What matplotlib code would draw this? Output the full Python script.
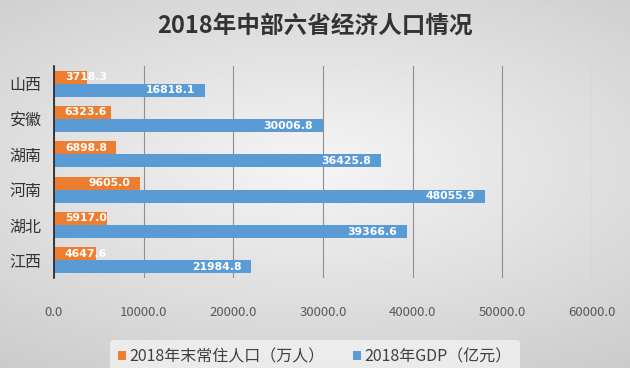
import matplotlib.pyplot as plt
import numpy as np

plt.rcParams['font.family'] = ['Noto Sans CJK SC', 'DejaVu Sans']

provinces = ["山西", "安徽", "湖南", "河南", "湖北", "江西"]
population = [3718.3, 6323.6, 6898.8, 9605.0, 5917.0, 4647.6]
gdp = [16818.1, 30006.8, 36425.8, 48055.9, 39366.6, 21984.8]
xticks = [0, 10000, 20000, 30000, 40000, 50000, 60000]

orange = "#ED7D31"
blue = "#5B9BD5"

fig = plt.figure(figsize=(6.3, 3.68), dpi=100)

# gray gradient background
bg = fig.add_axes([0, 0, 1, 1], zorder=-10)
yy, xx = np.mgrid[-1:1:200j, -1:1:340j]
r = np.sqrt((xx * 0.8) ** 2 + (yy + 0.1) ** 2)
bg.imshow(0.96 - 0.12 * r, cmap="gray", vmin=0, vmax=1, aspect="auto",
          extent=[0, 1, 0, 1])
bg.axis("off")

ax = fig.add_axes([0.0857, 0.2446, 0.854, 0.576])
ax.patch.set_alpha(0)

y = np.arange(len(provinces))
h = 0.37
ax.barh(y - h / 2, population, height=h, color=orange, zorder=3)
ax.barh(y + h / 2, gdp, height=h, color=blue, zorder=3)

for i in range(len(provinces)):
    ax.text(max(population[i] - 1100, 5900), y[i] - h / 2, f"{population[i]:.1f}",
            ha="right", va="center", color="white", fontsize=7.8,
            fontweight="bold", family="DejaVu Sans", zorder=4)
    ax.text(max(gdp[i] - 1100, 5900), y[i] + h / 2, f"{gdp[i]:.1f}",
            ha="right", va="center", color="white", fontsize=7.8,
            fontweight="bold", family="DejaVu Sans", zorder=4)

ax.set_ylim(len(provinces) - 0.5, -0.5)
ax.set_xlim(0, 60000)
ax.set_yticks(y)
ax.set_yticklabels(provinces, fontsize=11.5, color="#333333")
ax.set_xticks(xticks)
ax.set_xticklabels([f"{v:.1f}" for v in xticks], fontsize=9.5, color="#595959")
ax.tick_params(axis="both", length=0)
ax.tick_params(axis="x", pad=20)
ax.tick_params(axis="y", pad=9)
ax.grid(axis="x", color="#8f8f8f", linewidth=0.8, zorder=0)
for s in ["top", "right", "bottom"]:
    ax.spines[s].set_visible(False)
ax.spines["left"].set_color("#222222")
ax.spines["left"].set_linewidth(1.2)
ax.spines["left"].set_zorder(5)

fig.text(0.5, 0.93, "2018年中部六省经济人口情况", ha="center", va="center",
         fontsize=17, fontweight="bold", color="#333333")

leg = fig.legend(["2018年末常住人口（万人）", "2018年GDP（亿元）"],
                 loc="center", bbox_to_anchor=(0.5, 0.03), ncol=2,
                 fontsize=11.5, frameon=True, handlelength=0.5, handleheight=0.5,
                 handletextpad=0.2, columnspacing=1.8, borderpad=0.5)
leg.get_frame().set_facecolor("#f2f2f2")
leg.get_frame().set_edgecolor("none")
leg.get_frame().set_alpha(0.8)
for t in leg.get_texts():
    t.set_color("#404040")

fig.savefig("out.png", dpi=100)
